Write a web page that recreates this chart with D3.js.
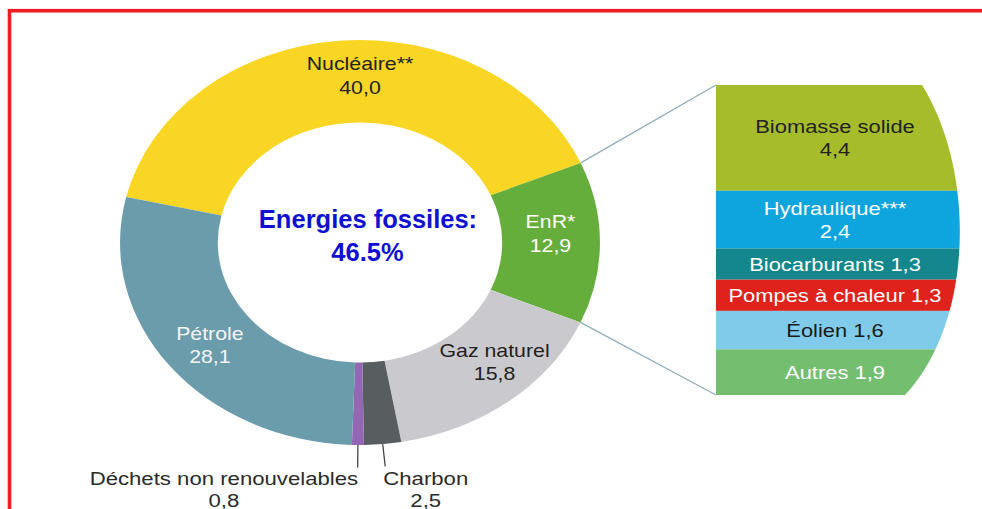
<!DOCTYPE html>
<html>
<head>
<meta charset="utf-8">
<script src="https://cdn.jsdelivr.net/npm/d3@7"></script>
<style>
  html, body { margin: 0; padding: 0; background: #ffffff; }
  svg { display: block; }
  text { font-family: "Liberation Sans", Arial, Helvetica, sans-serif; }
</style>
</head>
<body>
<svg id="chart" width="982" height="509"></svg>
<script>
// Consommation d'énergie primaire (%)
const categories = ["Nucléaire**", "EnR*", "Gaz naturel", "Charbon", "Déchets non renouvelables", "Pétrole"];
const values = [40.0, 12.9, 15.8, 2.5, 0.8, 28.1];
const sliceColors = ["#F9D524", "#66AE3B", "#CACACE", "#585D60", "#9467B5", "#6A9CAC"];
const sliceTextColors = ["#222222", "#ffffff", "#222222", "#222222", "#222222", "#f4f4f4"];

// Détail des énergies renouvelables (EnR*)
const enrCategories = ["Biomasse solide", "Hydraulique***", "Biocarburants", "Pompes à chaleur", "Éolien", "Autres"];
const enrValues = [4.4, 2.4, 1.3, 1.3, 1.6, 1.9];
const enrColors = ["#A6BC2A", "#0EA5DF", "#13878C", "#E0221C", "#80CBEA", "#74BE6F"];
const enrTextColors = ["#222222", "#ffffff", "#ffffff", "#ffffff", "#1a1a1a", "#ffffff"];

const centerTitle = "Energies fossiles:";
const centerValue = "46.5%";

// ---- layout ----
const svg = d3.select("#chart");
const fmt = v => d3.format(".1f")(v).replace(".", ",");
const sx = 1.185;                 // horizontal stretch of the drawing
const cx = 360, cy = 242.5;
const rOuter = 202.5, rInner = 120;
const startDeg = -77;
const toRad = d => d * Math.PI / 180;
// angle (deg) / radius where each slice label sits; null = small slice labelled below
const labelPlacement = [[0, 167], [86.8, 161], [136.5, 165], null, null, [231, 163]];

// red frame
svg.append("rect")
  .attr("x", 9.5).attr("y", 10.7).attr("width", 1000).attr("height", 600)
  .attr("fill", "none").attr("stroke", "#EF1C22").attr("stroke-width", 3.6);

// ---- donut ----
const pie = d3.pie().sort(null).value(d => d.value)
  .startAngle(toRad(startDeg)).endAngle(toRad(startDeg) + 2 * Math.PI);
const slices = pie(categories.map((c, i) => ({ name: c, value: values[i], i })));
const arc = d3.arc().innerRadius(rInner).outerRadius(rOuter);

const donut = svg.append("g").attr("transform", `translate(${cx},${cy}) scale(${sx},1)`);
donut.selectAll("path.slice").data(slices).join("path")
  .attr("class", "slice")
  .attr("d", arc)
  .attr("fill", d => sliceColors[d.data.i]);

const polar = (a, r) => [r * Math.sin(a), -r * Math.cos(a)];
const toScreen = (a, r) => { const p = polar(a, r); return [cx + sx * p[0], cy + p[1]]; };

// labels inside the ring
const fs = 18;
slices.forEach(d => {
  const pl = labelPlacement[d.data.i];
  if (!pl) return;
  const [lx, ly] = polar(toRad(pl[0]), pl[1]);
  const t = donut.append("text")
    .attr("text-anchor", "middle")
    .attr("font-size", fs)
    .attr("fill", sliceTextColors[d.data.i]);
  t.append("tspan").attr("x", lx).attr("y", ly - 11.75 + 6.5).text(d.data.name);
  t.append("tspan").attr("x", lx).attr("y", ly + 11.75 + 6.5).text(fmt(d.data.value));
});

// small slices: leader lines and labels under the ring
const small = slices.filter(d => !labelPlacement[d.data.i]);
const bfs = 18.7;
small.forEach(d => {
  const a = (d.startAngle + d.endAngle) / 2;
  const p0 = polar(a, rOuter), p1 = polar(a, rOuter + 22.5);
  donut.append("line")
    .attr("x1", p0[0]).attr("y1", p0[1]).attr("x2", p1[0]).attr("y2", p1[1])
    .attr("stroke", "#444").attr("stroke-width", 1.3)
    .attr("vector-effect", "non-scaling-stroke");
  const [bx] = toScreen(a, rOuter + 22.5);
  const leftSide = Math.sin(a) < 0;
  const g = svg.append("g").attr("transform", `translate(${leftSide ? bx + 0.5 : bx - 2},0) scale(${sx},1)`);
  const name = g.append("text")
    .attr("x", 0).attr("y", 478 + 6.7)
    .attr("text-anchor", leftSide ? "end" : "start")
    .attr("font-size", bfs).attr("fill", "#2a2a2a")
    .text(d.data.name);
  const w = name.node().getComputedTextLength();
  g.append("text")
    .attr("x", leftSide ? -w / 2 : w / 2).attr("y", 500 + 6.7)
    .attr("text-anchor", "middle")
    .attr("font-size", bfs).attr("fill", "#2a2a2a")
    .text(fmt(d.data.value));
});

// centre caption
svg.append("text")
  .attr("x", 368).attr("y", 227.5)
  .attr("text-anchor", "middle").attr("font-size", 25.5).attr("font-weight", "bold")
  .attr("fill", "#1010D2").text(centerTitle);
svg.append("text")
  .attr("x", 367.5).attr("y", 260.5)
  .attr("text-anchor", "middle").attr("font-size", 25.5).attr("font-weight", "bold")
  .attr("fill", "#1010D2").text(centerValue);

// ---- EnR breakdown column ----
const panelLeft = 716, panelRight = 975;
const y = d3.scaleLinear().domain([0, d3.sum(enrValues)]).range([85, 395]);
const stack = [];
enrValues.reduce((acc, v, i) => { stack.push({ name: enrCategories[i], value: v, i, y0: acc, y1: acc + v }); return acc + v; }, 0);

// rounded right-hand edge of the column
const [colTop, colBottom] = y.range();
const clip = svg.append("defs").append("clipPath").attr("id", "panel-clip");
clip.append("path").attr("d",
  `M${panelLeft},${colTop} L922,${colTop} C975,170 975,320 905,${colBottom} L${panelLeft},${colBottom} Z`);

// connectors from the EnR slice to the column
const enr = slices[1];
[[enr.startAngle, colTop], [enr.endAngle, colBottom]].forEach(([a, yy]) => {
  const [x0, y0] = toScreen(a, rOuter);
  svg.append("line")
    .attr("x1", x0).attr("y1", y0).attr("x2", panelLeft).attr("y2", yy)
    .attr("stroke", "#8DAEBA").attr("stroke-width", 1.3);
});

const panel = svg.append("g").attr("clip-path", "url(#panel-clip)");
panel.selectAll("rect").data(stack).join("rect")
  .attr("x", panelLeft).attr("width", panelRight - panelLeft)
  .attr("y", d => y(d.y0)).attr("height", d => y(d.y1) - y(d.y0))
  .attr("fill", d => enrColors[d.i]);

const pfs = 18.5;
stack.forEach(d => {
  const mid = (y(d.y0) + y(d.y1)) / 2;
  const g = svg.append("g").attr("transform", `translate(835,0) scale(${sx},1)`);
  const t = g.append("text").attr("text-anchor", "middle")
    .attr("font-size", pfs).attr("fill", enrTextColors[d.i]);
  if (y(d.y1) - y(d.y0) > 50) {
    t.append("tspan").attr("x", 0).attr("y", mid - 11.5 + 6.6).text(d.name);
    t.append("tspan").attr("x", 0).attr("y", mid + 11.5 + 6.6).text(fmt(d.value));
  } else {
    t.attr("x", 0).attr("y", mid + 6.6).text(`${d.name} ${fmt(d.value)}`);
  }
});
</script>
</body>
</html>
